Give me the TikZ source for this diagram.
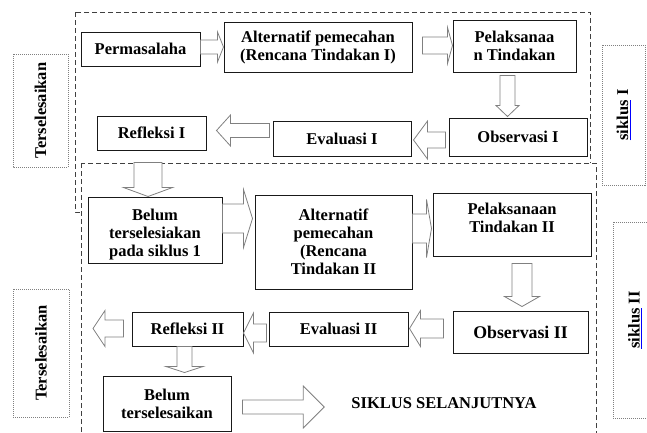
\documentclass[tikz,border=0pt]{standalone}
\usepackage{fontspec}
\setmainfont{Liberation Serif}
\usetikzlibrary{calc}

\newcommand{\spellerr}[1]{\rlap{\textcolor{blue}{\underline{\phantom{#1}}}}#1}

\begin{document}
\begin{tikzpicture}[x=1pt, y=-1pt]
      \tikzstyle{tbox}=[
        draw=black!90,
        line width=1pt,
        fill=white,
        align=center,
        inner sep=0pt,
        font=\fontsize{16.5}{18}\selectfont\bfseries
      ]
      \tikzstyle{sidebox}=[draw=gray, line width=0.8pt, dash pattern=on 1pt off 1pt,
        rotate=90, inner sep=0pt, font=\fontsize{16.5}{18}\selectfont\bfseries]
      \tikzstyle{cyclebox}=[draw=black!75, line width=1pt, dash pattern=on 5pt off 3pt]
      \tikzstyle{ablk}=[draw=gray, line width=0.8pt, fill=white]
      \tikzset{
        harrow/.style n args={3}{ablk, to path={
          let \p1=(\tikztostart), \p2=(\tikztotarget), \n1={\x2-sign(\x2-\x1)*#3} in
          (\x1,{\y1+#1}) -- ({\n1},{\y1+#1}) -- ({\n1},{\y1+#2}) -- (\x2,\y1)
          -- ({\n1},{\y1-#2}) -- ({\n1},{\y1-#1}) -- (\x1,{\y1-#1}) -- cycle}},
        varrow/.style n args={3}{ablk, to path={
          let \p1=(\tikztostart), \p2=(\tikztotarget), \n1={\y2-sign(\y2-\y1)*#3} in
          ({\x1-#1},\y1) -- ({\x1-#1},{\n1}) -- ({\x1-#2},{\n1}) -- (\x1,\y2)
          -- ({\x1+#2},{\n1}) -- ({\x1+#1},{\n1}) -- ({\x1+#1},\y1) -- cycle}}
      }

      \useasboundingbox (0,0) rectangle (647,432);

      % the two cycles
      \draw[cyclebox] (75,12) rectangle (590,212);
      \draw[cyclebox, fill=white] (81,163) rectangle (596,450);

      \node[sidebox, minimum width=113pt, minimum height=55pt] (ters1) at (40.5,110.5) {Terselesaikan};
      \node[sidebox, minimum width=128pt, minimum height=56pt] (ters2) at (41,353) {Terselesaikan};
      \node[sidebox, minimum width=140pt, minimum height=43pt] (sik1) at (623.5,115) {\spellerr{siklus} I};
      \node[sidebox, minimum width=196pt, minimum height=44pt] (sik2) at (635,320) {\spellerr{siklus} II};

      % siklus I
      \node[tbox, minimum width=119pt, minimum height=34pt] (perm) at (140.5,49) {Permasalaha};
      \node[tbox, minimum width=188pt, minimum height=50pt] (alt1) at (318,47) {Alternatif pemecahan\\(Rencana Tindakan I)};
      \node[tbox, minimum width=123pt, minimum height=52pt] (pel1) at (514.5,46) {Pelaksanaa\\n Tindakan};
      \node[tbox, minimum width=138pt, minimum height=38pt] (obs1) at (518,137) {Observasi I};
      \node[tbox, minimum width=138pt, minimum height=35pt] (eva1) at (342,138.5) {Evaluasi I};
      \node[tbox, minimum width=109pt, minimum height=34pt] (ref1) at (151.5,133) {Refleksi I};

      % siklus II
      \node[tbox, minimum width=134pt, minimum height=66pt] (bel1) at (155,230) {\mbox{}\\[2pt]Belum\\terselesiakan\\pada siklus 1};
      \node[tbox, minimum width=157pt, minimum height=94pt] (alt2) at (333.5,242) {Alternatif\\pemecahan\\(Rencana\\Tindakan II};
      \node[tbox, minimum width=158pt, minimum height=63pt] (pel2) at (512,224.5) {Pelaksanaan\\Tindakan II\\[-4pt]\mbox{}};
      \node[tbox, minimum width=135pt, minimum height=42pt, font=\fontsize{17.8}{19}\selectfont\bfseries] (obs2) at (520.5,332) {Observasi II};
      \node[tbox, minimum width=139pt, minimum height=34pt] (eva2) at (338.5,329) {Evaluasi II};
      \node[tbox, minimum width=111pt, minimum height=34pt] (ref2) at (187.5,329) {Refleksi II};
      \node[tbox, minimum width=128pt, minimum height=55pt] (bel2) at (167,403.5) {Belum\\terselesaikan};
      \node[inner sep=0pt, font=\fontsize{16.5}{18}\selectfont\bfseries] (next) at (444,403) {SIKLUS SELANJUTNYA};

      \draw[harrow={7pt}{15pt}{6pt}] ($(perm.east)+(0,-2)$) to (alt1.west);
      \draw[harrow={8.5pt}{18pt}{5pt}] ($(alt1.east)+(10,-1.5)$) to (pel1.west);
      \draw[varrow={7.5pt}{11.5pt}{11pt}] ($(pel1.south)+(-7,3)$) to ($(obs1.north)+(0,-1)$);
      \draw[harrow={8pt}{19pt}{14pt}] ($(obs1.west)+(-3,3)$) to ($(eva1.east)+(2,0)$);
      \draw[harrow={7pt}{15.5pt}{14pt}] ($(eva1.west)+(-3,-8)$) to ($(ref1.east)+(10,0)$);
      \draw[varrow={14pt}{24.5pt}{9pt}] ($(ref1.south)+(-3.5,12)$) to (bel1.north);
      \draw[harrow={14.5pt}{29pt}{9pt}] ($(bel1.east)+(0,-11.5)$) to ($(alt2.west)+(-2,0)$);
      \draw[harrow={14.5pt}{29pt}{5pt}] ($(alt2.east)+(0,-13.5)$) to ($(pel2.west)+(-1,0)$);
      \draw[varrow={10pt}{17.5pt}{10pt}] ($(pel2.south)+(10,7)$) to ($(obs2.north)+(0,-4)$);
      \draw[harrow={9.5pt}{18pt}{11pt}] ($(obs2.west)+(-9,-3.5)$) to ($(eva2.east)+(1,0)$);
      \draw[harrow={9pt}{20pt}{10pt}] ($(eva2.west)+(-2,4)$) to (ref2.east);
      \draw[harrow={8.5pt}{18pt}{12pt}] ($(ref2.west)+(-8,-0.5)$) to ($(ters2.center)+(52,0)$);
      \draw[varrow={7.5pt}{18.5pt}{6pt}] ($(ref2.south)+(-3,0)$) to ($(bel2.north)+(0,-3)$);
      \draw[harrow={7pt}{21pt}{21pt}] ($(bel2.east)+(11,3.5)$) to ($(next.west)+(-27,0)$);
    \end{tikzpicture}
\end{document}
